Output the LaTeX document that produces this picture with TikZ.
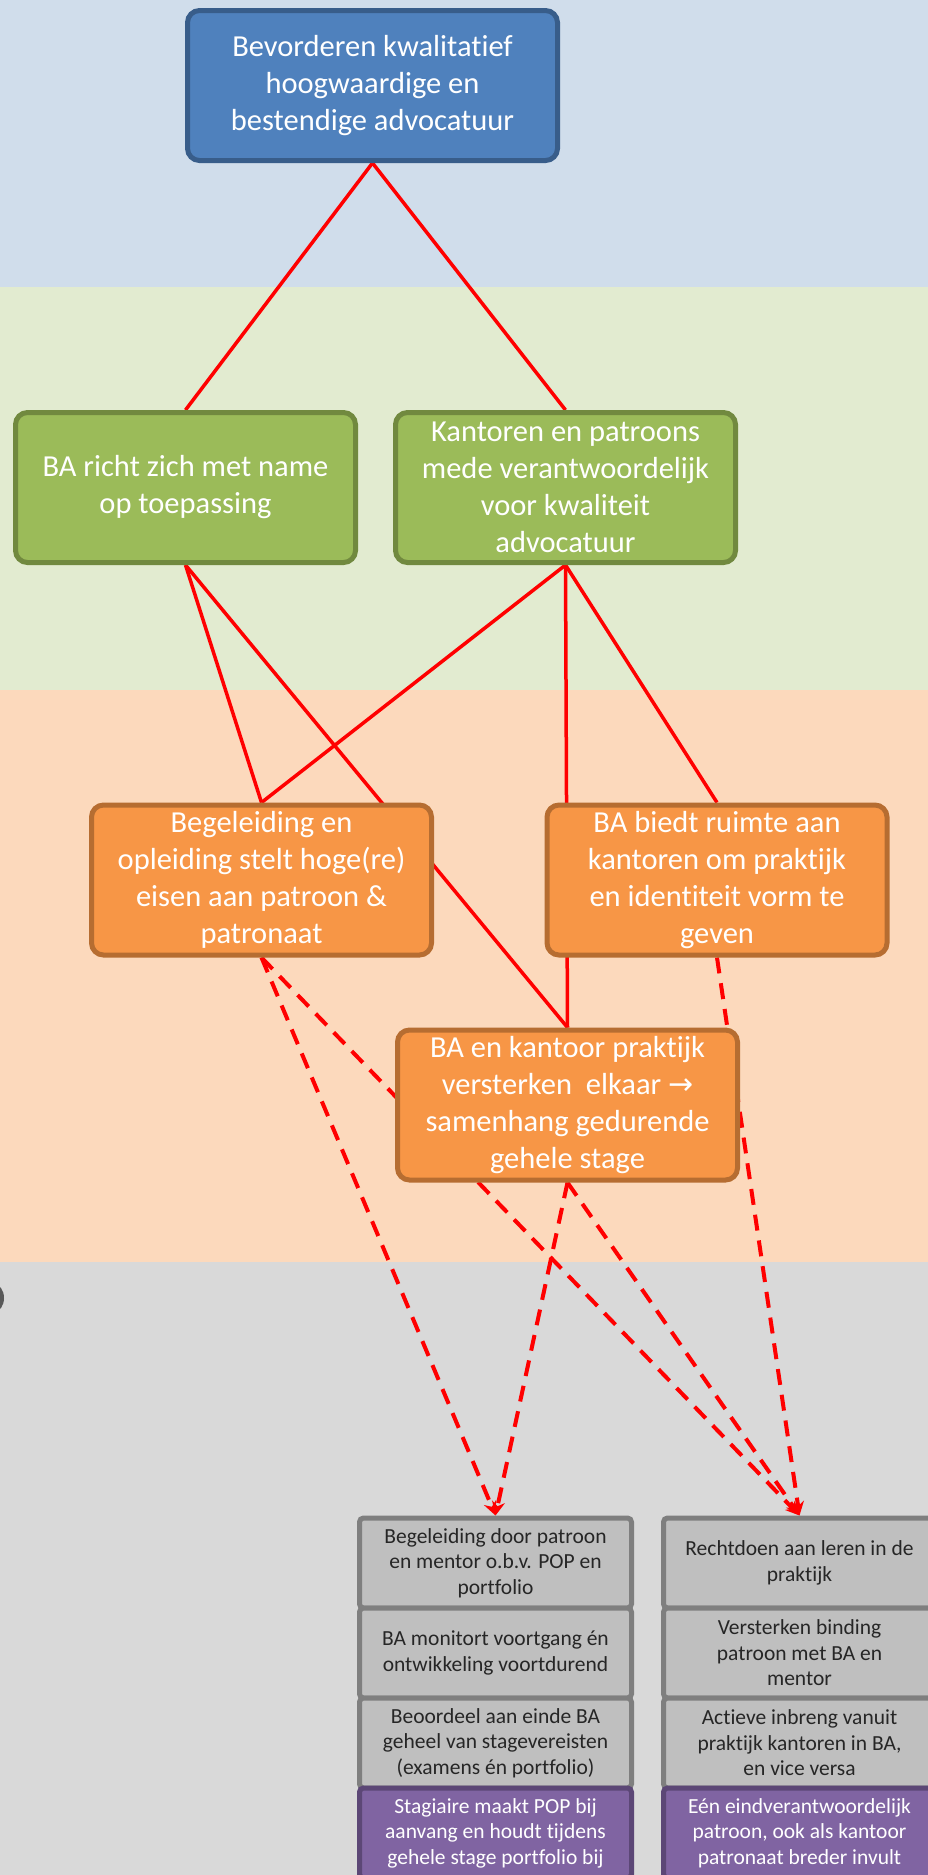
\documentclass[tikz,border=0pt]{standalone}
\usepackage{fontspec}
\setmainfont{Carlito}[Ligatures=NoCommon]
\newfontfamily\arrowfont{DejaVu Sans}
\usetikzlibrary{arrows.meta}

\definecolor{bandblue}{RGB}{208,221,235}
\definecolor{bandgreen}{RGB}{226,235,208}
\definecolor{bandorange}{RGB}{252,217,188}
\definecolor{bandgrey}{RGB}{217,217,217}
\definecolor{goalfill}{RGB}{79,129,189}
\definecolor{goalline}{RGB}{56,93,138}
\definecolor{aimfill}{RGB}{155,187,89}
\definecolor{aimline}{RGB}{113,137,63}
\definecolor{meansfill}{RGB}{247,150,70}
\definecolor{meansline}{RGB}{182,109,49}
\definecolor{actfill}{RGB}{191,191,191}
\definecolor{actline}{RGB}{127,127,127}
\definecolor{actext}{RGB}{38,38,38}
\definecolor{rolefill}{RGB}{128,100,162}
\definecolor{roleline}{RGB}{92,71,118}
\definecolor{glyph}{RGB}{89,89,89}

\pgfdeclarelayer{bands}
\pgfdeclarelayer{links}
\pgfsetlayers{bands,links,main}

\begin{document}
\begin{tikzpicture}[x=1pt,y=-1pt]
        \tikzstyle{box} = [rectangle, rounded corners=12pt, line width=5pt, minimum width=340pt, minimum height=150pt, inner sep=0pt, align=center, text=white, font=\fontsize{30.5}{37}\selectfont]
        \tikzstyle{goal} = [box, minimum width=370pt, draw=goalline, fill=goalfill]
        \tikzstyle{aim} = [box, draw=aimline, fill=aimfill]
        \tikzstyle{means} = [box, draw=meansline, fill=meansfill]
        \tikzstyle{act} = [rectangle, rounded corners=4pt, line width=5pt, minimum width=272pt, minimum height=90pt, inner sep=0pt, align=center, draw=actline, fill=actfill, text=actext, font=\fontsize{21.5}{25.5}\selectfont]
        \tikzstyle{role} = [act, draw=roleline, fill=rolefill, text=white]
        \tikzstyle{link} = [red, line width=3.5pt]
        \tikzstyle{dlink} = [red, line width=4pt, dash pattern=on 16pt off 10pt, -{Stealth[length=14pt,width=13pt]}]

        \clip (0,0) rectangle (928,1875);

        \begin{pgfonlayer}{bands}
        \fill [bandblue] (0,0) rectangle (928,287);
        \fill [bandgreen] (0,287) rectangle (928,690);
        \fill [bandorange] (0,690) rectangle (928,1262);
        \fill [bandgrey] (0,1262) rectangle (928,1875);
        \fill [glyph] (-6,1298) ellipse [x radius=10pt, y radius=14pt];
        \end{pgfonlayer}

        \node (goal) [goal] at (372.5,85.5) {Bevorderen kwalitatief\\hoogwaardige en\\bestendige advocatuur};

        \node (apply) [aim] at (185.5,487.5) {BA richt zich met name\\op toepassing};
        \node (offices) [aim] at (565.5,487.5) {Kantoren en patroons\\mede verantwoordelijk\\voor kwaliteit\\advocatuur};

        \node (demands) [means] at (261.5,880) {Begeleiding en\\opleiding stelt hoge(re)\\eisen aan patroon \&\\patronaat};
        \node (room) [means] at (717,880) {BA biedt ruimte aan\\kantoren om praktijk\\en identiteit vorm te\\geven};
        \node (bond) [means] at (567.5,1105) {BA en kantoor praktijk\\versterken\ \ elkaar {\arrowfont\fontsize{30}{37}\selectfont →}\\samenhang gedurende\\gehele stage};

        \node (guide) [act] at (495.5,1563) {Begeleiding door patroon\\en mentor o.b.v. POP en\\portfolio};
        \node (monitor) [act] at (495.5,1653) {BA monitort voortgang én\\ontwikkeling voortdurend};
        \node (assess) [act] at (495.5,1743) {Beoordeel aan einde BA\\geheel van stagevereisten\\(examens én portfolio)};
        \node (pop) [role] at (495.5,1833) {Stagiaire maakt POP bij\\aanvang en houdt tijdens\\gehele stage portfolio bij};

        \node (practice) [act] at (799.5,1563) {Rechtdoen aan leren in de\\praktijk};
        \node (binding) [act] at (799.5,1653) {Versterken binding\\patroon met BA en\\mentor};
        \node (input) [act] at (799.5,1743) {Actieve inbreng vanuit\\praktijk kantoren in BA,\\en vice versa};
        \node (patron) [role] at (799.5,1833) {Eén eindverantwoordelijk\\patroon, ook als kantoor\\patronaat breder invult};

        \begin{pgfonlayer}{links}
        \draw [link] (goal.south) -- (apply.north);
        \draw [link] (goal.south) -- (offices.north);
        \draw [link] (apply.south) -- (demands.north);
        \draw [link] (apply.south) -- (bond.north);
        \draw [link] (offices.south) -- (demands.north);
        \draw [link] (offices.south) -- (bond.north);
        \draw [link] (offices.south) -- (room.north);
        \draw [dlink] (demands.south) -- (guide.north);
        \draw [dlink] (demands.south) -- (practice.north);
        \draw [dlink] (room.south) -- (practice.north);
        \draw [dlink] (bond.south) -- (guide.north);
        \draw [dlink] (bond.south) -- (practice.north);
        \end{pgfonlayer}
    \end{tikzpicture}
\end{document}
